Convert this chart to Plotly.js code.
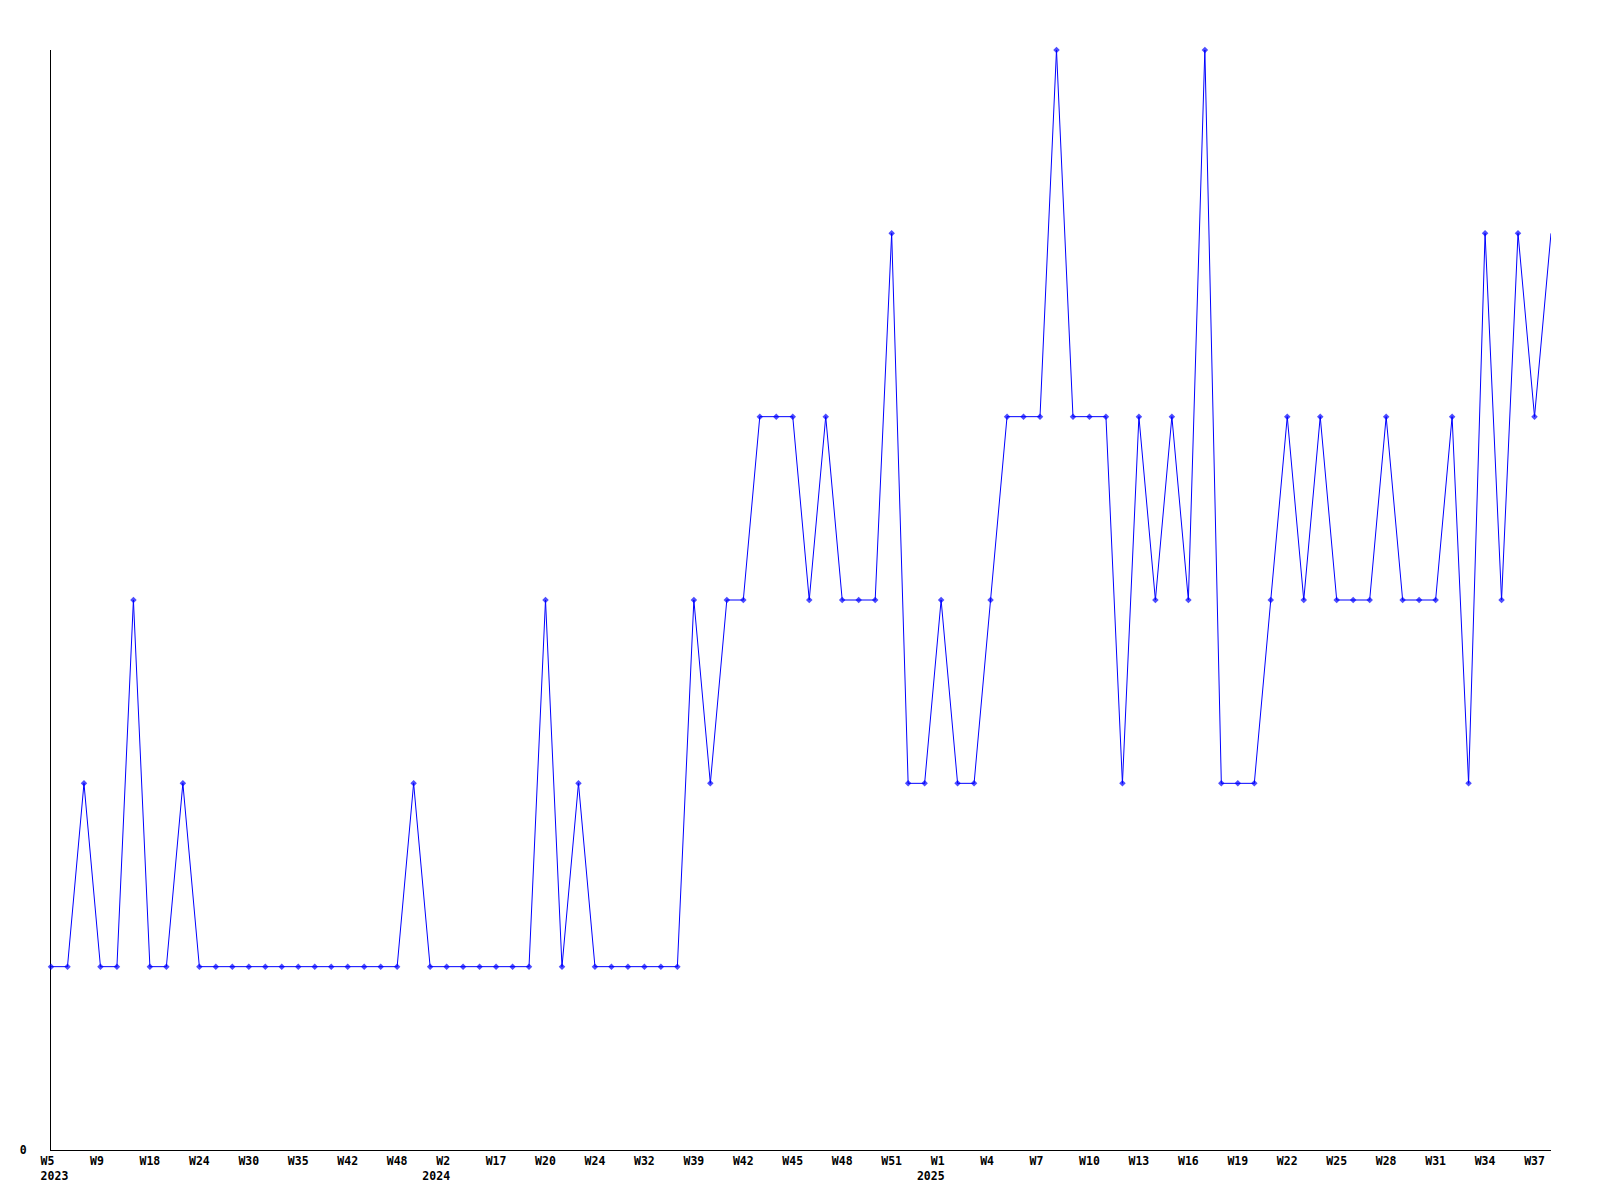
<!DOCTYPE html>
<html>
<head>
<meta charset="utf-8">
<script src="https://cdn.plot.ly/plotly-3.0.1.min.js"></script>
<style>
html,body{margin:0;padding:0;background:#fff;}
#chart{width:1600px;height:1200px;}
</style>
</head>
<body>
<div id="chart"></div>
<script>
// Weekly series values (one per week with data)
const values = [
  1,1,2,1,1,3,1,1,2,1,
  1,1,1,1,1,1,1,1,1,1,
  1,1,2,1,1,1,1,1,1,1,
  3,1,2,1,1,1,1,1,1,3,
  2,3,3,4,4,4,3,4,3,3,
  3,5,2,2,3,2,2,3,4,4,
  4,6,4,4,4,2,4,3,4,3,
  6,2,2,2,3,4,3,4,3,3,
  3,4,3,3,3,4,2,5,3,5,
  4,5
];
// Tick labels, one every 3rd week point
const weekLabels = ["W5","W9","W18","W24","W30","W35","W42","W48","W2","W17","W20","W24","W32","W39","W42","W45","W48","W51","W1","W4","W7","W10","W13","W16","W19","W22","W25","W28","W31","W34","W37"];
const tickStep = 3;
// Year shown under the tick label at these tick positions (tick label index)
const yearTickIndex = [0, 8, 18];
const yearLabels = ["2023", "2024", "2025"];

const NB = "\u00A0";
const xs = values.map((v, i) => i);
const tickvals = weekLabels.map((w, i) => i * tickStep);
const ticktext = weekLabels.map((w, i) => {
  let t = w.length < 3 ? w + NB : w;
  const yi = yearTickIndex.indexOf(i);
  if (yi >= 0) {
    const yr = yi === 0 ? NB + yearLabels[yi] : yearLabels[yi] + NB + NB + NB;
    t += "<br>" + yr;
  }
  return t;
});
const sizes = values.map((v, i) => i === values.length - 1 ? 0 : 5);

const tickFont = {family: "DejaVu Sans Mono", size: 11.5, color: "#000", weight: "bold"};

Plotly.newPlot("chart", [{
  type: "scatter",
  mode: "lines+markers",
  x: xs,
  y: values,
  line: {color: "#0000ff", width: 1},
  marker: {color: "#0000ff", symbol: "diamond", size: sizes, line: {width: 0}},
  cliponaxis: false,
  hoverinfo: "skip"
}], {
  width: 1600,
  height: 1200,
  margin: {l: 51, r: 49, t: 50, b: 50, pad: 0},
  paper_bgcolor: "#fff",
  plot_bgcolor: "#fff",
  showlegend: false,
  xaxis: {
    range: [0, values.length - 1],
    showline: true, linecolor: "#000", linewidth: 1,
    showgrid: false, zeroline: false, layer: "below traces",
    ticks: "", tickvals: tickvals, ticktext: ticktext,
    tickfont: tickFont, tickangle: 0,
    fixedrange: true
  },
  yaxis: {
    range: [0, 6],
    showline: true, linecolor: "#000", linewidth: 1,
    showgrid: false, zeroline: false, layer: "below traces",
    ticks: "", tickvals: [0], ticktext: ["0"],
    tickfont: tickFont, ticklabelstandoff: 21,
    fixedrange: true
  }
}, {staticPlot: true, displayModeBar: false});
</script>
</body>
</html>
